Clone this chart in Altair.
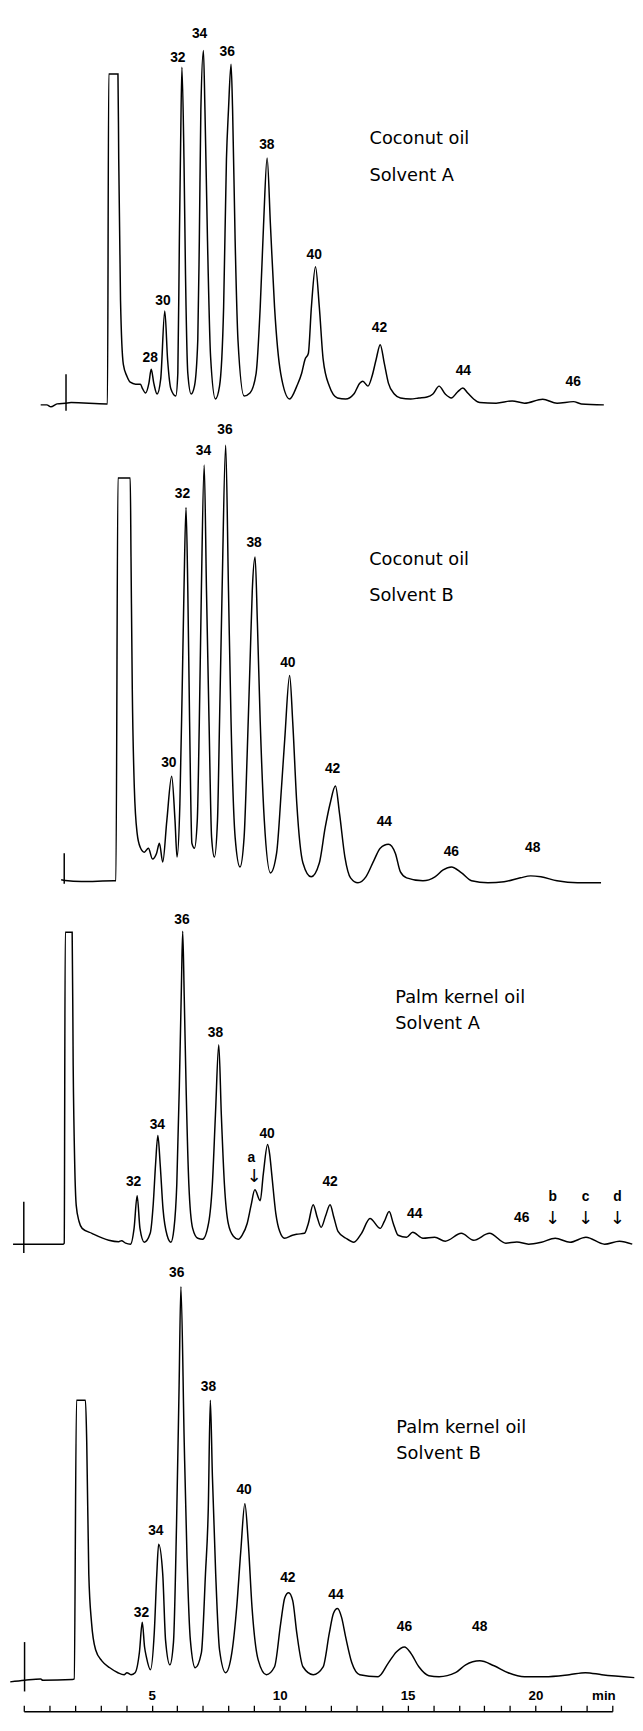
import altair as alt
import pandas as pd

# ---------------- data (time in min, detector signal) -------------
# Panel 1: Coconut oil, Solvent A
P1_T = [0.66, 0.90, 1.06, 1.30, 1.62, 1.85, 3.24, 3.27, 3.32, 3.68, 3.71, 3.78, 3.89, 4.03, 4.16, 4.37,
        4.56, 4.63, 4.76, 4.89, 4.98, 5.08, 5.21, 5.35, 5.51, 5.62, 5.75, 5.94, 6.02, 6.08, 6.13, 6.18,
        6.26, 6.32, 6.41, 6.54, 6.67, 6.80, 6.86, 6.92, 7.02, 7.08, 7.18, 7.30, 7.49, 7.65, 7.81, 7.92,
        8.00, 8.10, 8.16, 8.26, 8.37, 8.61, 8.84, 9.08, 9.24, 9.37, 9.51, 9.64, 9.80, 10.04, 10.39,
        10.67, 10.86, 10.99, 11.12, 11.24, 11.40, 11.55, 11.70, 11.94, 12.26, 12.58, 12.90, 13.13,
        13.25, 13.45, 13.61, 13.77, 13.93, 14.09, 14.25, 14.48, 14.72, 15.12, 15.44, 15.76, 15.99,
        16.23, 16.47, 16.71, 16.95, 17.16, 17.35, 17.58, 17.82, 18.46, 19.09, 19.57, 20.28, 20.84,
        21.48, 21.79, 22.67]
P1_S = [-1, -1, -3, 0, 0.7, 1.3, 0, 0, 334, 334, 248, 105, 40, 28, 22, 20,
        20, 16, 11, 21, 35, 21, 10, 25, 94, 45, 15, 8, 31, 165, 265, 341,
        248, 131, 31, 10, 18, 65, 165, 298, 358, 298, 165, 48, 5, 18, 98, 248,
        298, 344, 298, 165, 65, 8, 11, 31, 98, 181, 249, 181, 98, 31, 5,
        18, 31, 45, 51, 98, 139, 98, 45, 18, 6, 5, 10, 21,
        23, 18, 28, 45, 60, 41, 21, 10, 6, 5, 6, 7, 10,
        18, 10, 6, 12, 16, 11, 5, 1.3, 0.7, 3, 0.7, 4.7, 0.7,
        2.3, 0, -1]
P1_LABELS = ["28", "30", "32", "34", "36", "38", "40", "42", "44", "46"]
P1_LABEL_T = [4.94, 5.44, 6.02, 6.87, 7.95, 9.50, 11.35, 13.90, 17.18, 21.47]
P1_LABEL_S = [46, 104, 350, 375, 356, 262, 151, 77, 33, 22]
P1_TITLE = ["Coconut oil", "Solvent A"]
P1_TITLE_T = [13.51, 13.51]
P1_TITLE_S = [268, 231]
P1_MARK = [1.65, 30, -7]

# Panel 2: Coconut oil, Solvent B
P2_T = [1.46, 1.62, 2.25, 3.52, 3.60, 3.68, 4.16, 4.19, 4.24, 4.32,
        4.43, 4.55, 4.71, 4.87, 5.03, 5.19, 5.30, 5.43, 5.59, 5.78,
        5.91, 5.99, 6.10, 6.19, 6.26, 6.34, 6.41, 6.48, 6.57, 6.67,
        6.78, 6.86, 6.94, 7.05, 7.14, 7.24, 7.34, 7.45, 7.57, 7.65,
        7.75, 7.89, 8.00, 8.10, 8.26, 8.45, 8.61, 8.73, 8.85, 8.93,
        9.04, 9.13, 9.24, 9.40, 9.64, 9.88, 10.07, 10.20, 10.39, 10.51,
        10.67, 10.91, 11.23, 11.55, 11.78, 11.97, 12.18, 12.34, 12.55, 12.77,
        13.06, 13.37, 13.69, 13.93, 14.25, 14.52, 14.72, 14.96, 15.60, 16.07,
        16.39, 16.71, 17.11, 17.50, 18.14, 18.77, 19.41, 19.81, 20.21, 20.84,
        21.64, 22.56]
P2_S = [1, 0.3, -0.7, 0, 0, 408, 408, 328, 194, 94,
        48, 34, 29, 33, 22, 28, 38, 19, 61, 106,
        61, 24, 78, 194, 294, 378, 294, 161, 38, 33,
        61, 161, 294, 421, 294, 161, 44, 24, 61, 161,
        294, 441, 294, 161, 44, 14, 44, 128, 228, 294,
        328, 261, 161, 61, 8, 28, 94, 144, 208, 161,
        78, 18, 4, 18, 54, 78, 96, 68, 24, 3,
        -2, 4, 21, 33, 37, 28, 9, 3, 0, 4,
        11, 14, 8, 0, -2, -1, 3, 5, 4, 0,
        -2, -2]
P2_LABELS = ["30", "32", "34", "36", "38", "40", "42", "44", "46", "48"]
P2_LABEL_T = [5.67, 6.20, 7.02, 7.86, 9.00, 10.32, 12.07, 14.09, 16.71, 19.89]
P2_LABEL_S = [119, 392, 435, 456, 342, 221, 113, 59, 29, 33]
P2_TITLE = ["Coconut oil", "Solvent B"]
P2_TITLE_T = [13.50, 13.50]
P2_TITLE_S = [325, 288]
P2_MARK = [1.58, 28, -3]

# Panel 3: Palm kernel oil, Solvent A
P3_T = [-0.42, 0.62, 1.54, 1.58, 1.62, 1.89, 1.93, 1.99, 2.05, 2.16,
        2.28, 2.66, 3.32, 3.71, 3.82, 3.98, 4.17, 4.31, 4.43, 4.54,
        4.71, 4.94, 5.06, 5.15, 5.24, 5.33, 5.44, 5.60, 5.75, 5.87,
        5.98, 6.08, 6.16, 6.21, 6.27, 6.35, 6.45, 6.60, 6.80, 6.99,
        7.22, 7.37, 7.49, 7.62, 7.72, 7.84, 7.99, 8.19, 8.38, 8.53,
        8.73, 8.88, 9.03, 9.24, 9.36, 9.53, 9.61, 9.69, 9.85, 10.00,
        10.19, 10.50, 10.66, 10.97, 11.12, 11.31, 11.47, 11.62, 11.80, 11.97,
        12.12, 12.28, 12.59, 12.90, 13.20, 13.53, 13.93, 14.09, 14.28, 14.44,
        14.63, 14.96, 15.20, 15.60, 16.06, 16.47, 17.10, 17.58, 18.20, 18.84,
        19.27, 19.73, 20.23, 20.77, 21.35, 21.97, 22.70, 23.28, 23.78]
P3_S = [-1, -1, -1, 0, 315, 315, 180, 80, 38, 22,
        15, 10, 3, 1.5, 2.5, 0, -1, 15, 48, 15,
        1, 10, 40, 80, 109, 80, 35, 8, 1, 15,
        60, 160, 260, 316, 250, 150, 60, 15, 5, 4,
        20, 60, 130, 201, 130, 60, 20, 7, 4, 8,
        20, 38, 54, 43, 70, 100, 90, 70, 30, 12,
        5, 8, 9, 10, 20, 39, 26, 16, 28, 39,
        26, 12, 5, 1, 10, 25, 15, 22, 32, 20,
        8, 6, 11, 5, 6, 2, 10, 3, 10, 0,
        1.3, -1, 1, 5, 1, 6, -1, 2, -1]
P3_LABELS = ["32", "34", "36", "38", "a", "40", "42", "44", "46", "b", "c", "d"]
P3_LABEL_T = [4.29, 5.22, 6.18, 7.49, 8.89, 9.51, 11.97, 15.28, 19.46, 20.67, 21.96, 23.20]
P3_LABEL_S = [62, 120, 327, 213, 86, 111, 62, 29, 25, 47, 47, 47]
P3_ARROW_T = [9.00, 20.67, 21.96, 23.20]
P3_ARROW_S = [67, 24, 24, 24]
P3_TITLE = ["Palm kernel oil", "Solvent A"]
P3_TITLE_T = [14.52, 14.52]
P3_TITLE_S = [248, 222]
P3_MARK = [0.0, 42, -10]

# Panel 4: Palm kernel oil, Solvent B
P4_T = [-0.53, 0.03, 0.66, 0.74, 1.90, 1.97, 2.06, 2.41, 2.46, 2.54,
        2.65, 2.81, 3.05, 3.36, 3.68, 3.92, 4.03, 4.19, 4.35, 4.52,
        4.63, 4.72, 4.79, 4.95, 5.10, 5.20, 5.27, 5.43, 5.54, 5.71,
        5.85, 5.97, 6.07, 6.14, 6.27, 6.38, 6.51, 6.70, 6.94, 7.10,
        7.21, 7.29, 7.37, 7.50, 7.65, 7.89, 8.13, 8.32, 8.48, 8.64,
        8.77, 8.92, 9.16, 9.48, 9.80, 10.04, 10.20, 10.35, 10.51, 10.67,
        10.91, 11.31, 11.70, 11.94, 12.10, 12.26, 12.42, 12.58, 12.82, 13.13,
        13.85, 14.25, 14.56, 14.88, 15.12, 15.44, 15.83, 16.23, 16.87, 17.27,
        17.82, 18.38, 18.93, 19.57, 20.36, 21.32, 21.95, 22.59, 23.86]
P4_S = [-0.3, 1.3, 2.7, 1.3, 2, 2.7, 285, 285, 242, 109,
        59, 32, 21, 14, 9, 7, 9, 7, 9, 30,
        60, 35, 25, 12, 50, 110, 139, 109, 42, 17,
        40, 160, 300, 400, 242, 125, 42, 14, 29, 109,
        175, 285, 209, 109, 32, 9, 29, 75, 132, 180,
        142, 75, 22, 7, 15, 59, 85, 90, 82, 49,
        15, 7, 15, 49, 69, 74, 65, 45, 19, 7,
        5, 19, 30, 35, 29, 15, 6, 5, 9, 17,
        21, 16, 9, 5, 5, 7, 9, 7, 4]
P4_LABELS = ["32", "34", "36", "38", "40", "42", "44", "46", "48"]
P4_LABEL_T = [4.60, 5.16, 5.98, 7.22, 8.61, 10.32, 12.20, 14.88, 17.82]
P4_LABEL_S = [69, 152, 414, 298, 194, 105, 88, 55, 55]
P4_TITLE = ["Palm kernel oil", "Solvent B"]
P4_TITLE_T = [14.56, 14.56]
P4_TITLE_S = [257, 230]
P4_MARK = [0.03, 40, -10]

# time axis
AXIS_TICKS = list(range(0, 24))
AXIS_UNIT = "min"

# ---------------- layout ----------------
W = 596          # plot width for 0..23 min
H = 1714         # plot height (whole stack)
TOP = 8          # page y of plot top
BASELINES = [398, 881, 1248, 1692]   # page y of each panel's baseline
LABEL_FONT = "Liberation Sans"
TITLE_FONT = "DejaVu Sans"

XAXIS = alt.Axis(
    orient="top", offset=-H, values=AXIS_TICKS, grid=False,
    labelExpr="datum.value % 5 == 0 && datum.value > 0 ? datum.label : ''",
    labelOverlap=False, labelFlush=False,
    tickSize=6, tickWidth=1.3, tickColor="black",
    domainColor="black", domainWidth=1.6,
    labelPadding=3, labelFont=LABEL_FONT, labelFontSize=13.5, labelFontWeight="bold",
    labelColor="black",
    title=AXIS_UNIT, titleX=587, titleY=-9, titleBaseline="bottom", titleAlign="center",
    titleFont=LABEL_FONT, titleFontSize=13.5, titleFontWeight="bold", titleColor="black",
)
XS = alt.Scale(domain=[0, 23], nice=False, zero=False)


def panel(T, S, labels, lt, ls, title, tt, ts, mark, base, arrows=None):
    d1 = base - TOP
    ys = alt.Scale(domain=[d1 - H, d1], nice=False, zero=False)
    x = alt.X("t:Q", scale=XS, axis=XAXIS)
    y = alt.Y("s:Q", scale=ys, axis=None)
    line = alt.Chart(pd.DataFrame({"t": T, "s": S})).mark_line(
        color="black", strokeWidth=1.5, interpolate="monotone"
    ).encode(x=x, y=y)
    rule = alt.Chart(pd.DataFrame({"t": [mark[0]], "s": [mark[1]], "s2": [mark[2]]})).mark_rule(
        color="black", strokeWidth=1.5
    ).encode(x=x, y=y, y2="s2:Q")
    lab = alt.Chart(pd.DataFrame({"t": lt, "s": ls, "txt": labels})).mark_text(
        font=LABEL_FONT, fontSize=14, fontWeight="bold", color="black", baseline="middle"
    ).encode(x=x, y=y, text="txt:N")
    ttl = alt.Chart(pd.DataFrame({"t": tt, "s": ts, "txt": title})).mark_text(
        font=TITLE_FONT, fontSize=18, color="black", align="left", baseline="middle"
    ).encode(x=x, y=y, text="txt:N")
    layers = [line, rule, lab, ttl]
    if arrows is not None:
        arr = alt.Chart(pd.DataFrame({"t": arrows[0], "s": arrows[1], "txt": ["↓"] * len(arrows[0])})).mark_text(
            font=TITLE_FONT, fontSize=18, color="black", baseline="middle"
        ).encode(x=x, y=y, text="txt:N")
        layers.append(arr)
    return alt.layer(*layers)


p1 = panel(P1_T, P1_S, P1_LABELS, P1_LABEL_T, P1_LABEL_S, P1_TITLE, P1_TITLE_T, P1_TITLE_S, P1_MARK, BASELINES[0])
p2 = panel(P2_T, P2_S, P2_LABELS, P2_LABEL_T, P2_LABEL_S, P2_TITLE, P2_TITLE_T, P2_TITLE_S, P2_MARK, BASELINES[1])
p3 = panel(P3_T, P3_S, P3_LABELS, P3_LABEL_T, P3_LABEL_S, P3_TITLE, P3_TITLE_T, P3_TITLE_S, P3_MARK, BASELINES[2],
           arrows=(P3_ARROW_T, P3_ARROW_S))
p4 = panel(P4_T, P4_S, P4_LABELS, P4_LABEL_T, P4_LABEL_S, P4_TITLE, P4_TITLE_T, P4_TITLE_S, P4_MARK, BASELINES[3])

chart = alt.layer(p1, p2, p3, p4).resolve_scale(y="independent").properties(
    width=W, height=H,
    padding={"left": 16, "top": 0, "right": 23, "bottom": 1},
    autosize=alt.AutoSizeParams(type="none"),
    background="white",
).configure_view(stroke=None)

chart.save("out.html", embed_options={"renderer": "svg", "actions": False})
